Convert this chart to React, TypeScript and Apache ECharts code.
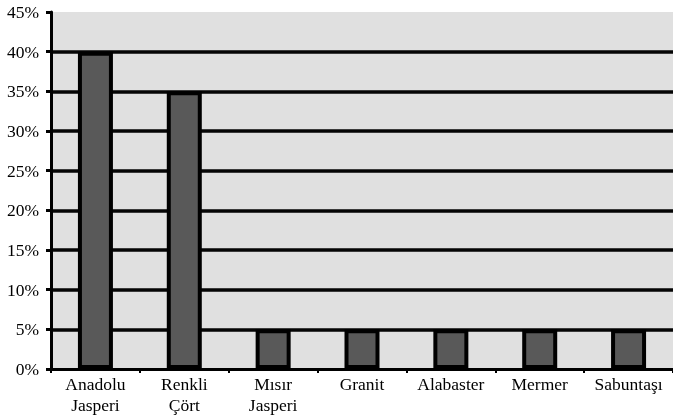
import React, { useEffect, useRef } from "react";
import * as echarts from "echarts";

const categories = ["Anadolu\nJasperi", "Renkli\nÇört", "Mısır\nJasperi", "Granit", "Alabaster", "Mermer", "Sabuntaşı"];
const values = [40, 35, 5, 5, 5, 5, 5];

export default function App() {
  const ref = useRef<HTMLDivElement>(null);
  useEffect(() => {
    const chart = echarts.init(ref.current!, undefined, { renderer: "svg" });
    const font = "'Liberation Serif', 'Times New Roman', serif";
    chart.setOption({
      animation: false,
      grid: {
        left: 51,
        right: 0,
        top: 12,
        bottom: 51,
        show: true,
        backgroundColor: "#e0e0e0",
        borderWidth: 0,
      },
      xAxis: {
        type: "category",
        data: categories,
        axisLine: { lineStyle: { color: "#000", width: 3 } },
        axisTick: { show: true, length: 4, lineStyle: { color: "#000", width: 2 } },
        axisLabel: { color: "#000", fontFamily: font, fontSize: 17.5, lineHeight: 21, margin: 4, interval: 0 },
      },
      yAxis: {
        type: "value",
        min: 0,
        max: 45,
        interval: 5,
        axisLine: { show: true, lineStyle: { color: "#000", width: 3 } },
        axisTick: { show: true, length: 5, lineStyle: { color: "#000", width: 3 } },
        axisLabel: { color: "#000", fontFamily: font, fontSize: 17.5, margin: 12, formatter: "{value}%" },
        splitLine: { show: true, showMaxLine: false, showMinLine: false, lineStyle: { color: "#050505", width: 3.5 } },
      },
      series: [
        {
          type: "bar",
          data: values,
          barWidth: 35,
          itemStyle: { color: "#595959", borderColor: "#000", borderWidth: 4 },
        },
      ],
    });
    return () => chart.dispose();
  }, []);
  return <div ref={ref} style={{ position: "fixed", left: 0, top: 0, width: 673, height: 420 }} />;
}
